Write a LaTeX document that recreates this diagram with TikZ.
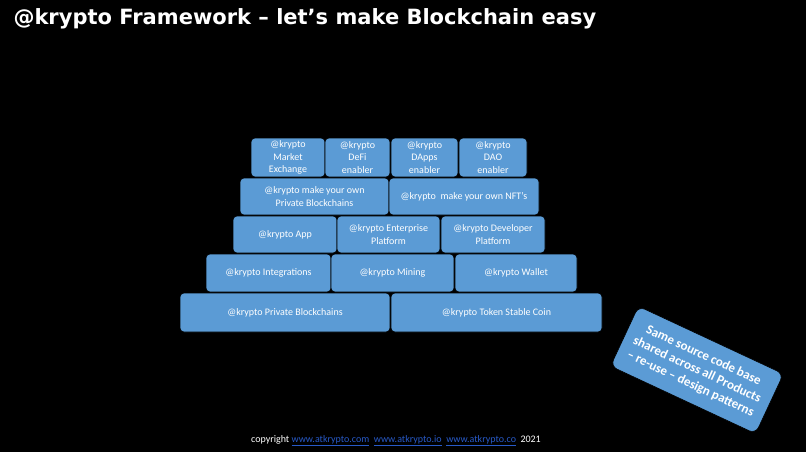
\documentclass[tikz,border=0pt]{standalone}
\usepackage{fontspec}
\setmainfont{Carlito}
\newfontfamily\headfont{DejaVu Sans}
\usepackage{tikz}
\definecolor{brick}{RGB}{91,155,213}
\definecolor{linkblue}{RGB}{40,90,200}
\tikzset{block/.style={draw=black,line width=0.6pt,fill=brick,rounded corners=4pt,text=white,align=center,font=\fontsize{10}{12.5}\selectfont,inner sep=0pt}}
\begin{document}
\begin{tikzpicture}[x=1pt,y=-1pt]
\fill[black] (0,0) rectangle (806,452);
\useasboundingbox (0,0) rectangle (806,452);
\node[anchor=west,text=white,font=\headfont\fontsize{21}{24}\bfseries\selectfont] (title) at (10,19) {@krypto Framework – let’s make Blockchain easy};
% top row
\node[block,minimum width=74pt,minimum height=39pt] (market) at (288,157.5) {@krypto\\Market\\Exchange};
\node[block,minimum width=65pt,minimum height=39pt] (defi) at (357.5,157.5) {@krypto\\DeFi\\enabler};
\node[block,minimum width=67pt,minimum height=39pt] (dapps) at (424.5,157.5) {@krypto\\DApps\\enabler};
\node[block,minimum width=68pt,minimum height=39pt] (dao) at (493,157.5) {@krypto\\DAO\\enabler};
% second row
\node[block,minimum width=149pt,minimum height=37pt] (private) at (314.5,196.5) {@krypto make your own\\Private Blockchains};
\node[block,minimum width=150pt,minimum height=37pt] (nft) at (464,196.5) {@krypto\ \ make your own NFT’s};
% third row
\node[block,minimum width=104pt,minimum height=37pt] (app) at (285,234.5) {@krypto App};
\node[block,minimum width=103pt,minimum height=37pt] (enterprise) at (388.5,234.5) {@krypto Enterprise\\Platform};
\node[block,minimum width=104pt,minimum height=37pt] (developer) at (493,234.5) {@krypto Developer\\Platform};
% fourth row
\node[block,minimum width=125pt,minimum height=38pt] (integrations) at (268.5,273) {@krypto Integrations};
\node[block,minimum width=123pt,minimum height=38pt] (mining) at (392.5,273) {@krypto Mining};
\node[block,minimum width=122pt,minimum height=38pt] (wallet) at (516,273) {@krypto Wallet};
% base row
\node[block,minimum width=210pt,minimum height=39pt] (chains) at (285,312.5) {@krypto Private Blockchains};
\node[block,minimum width=211pt,minimum height=39pt] (stable) at (496.5,312.5) {@krypto Token Stable Coin};
% note
\node[block,rotate=-25,minimum width=160pt,minimum height=66pt,rounded corners=7pt,font=\fontsize{13}{15.5}\bfseries\selectfont] (note) at (697,370) {Same source code base\\shared across all Products\\– re-use – design patterns};
\node[text=white,font=\fontsize{10}{12}\selectfont] (copy) at (396,441) {copyright \textcolor{linkblue}{\underline{www.atkrypto.com}}\ \ \textcolor{linkblue}{\underline{www.atkrypto.io}}\ \ \textcolor{linkblue}{\underline{www.atkrypto.co}}\ \ 2021};
\end{tikzpicture}
\end{document}
